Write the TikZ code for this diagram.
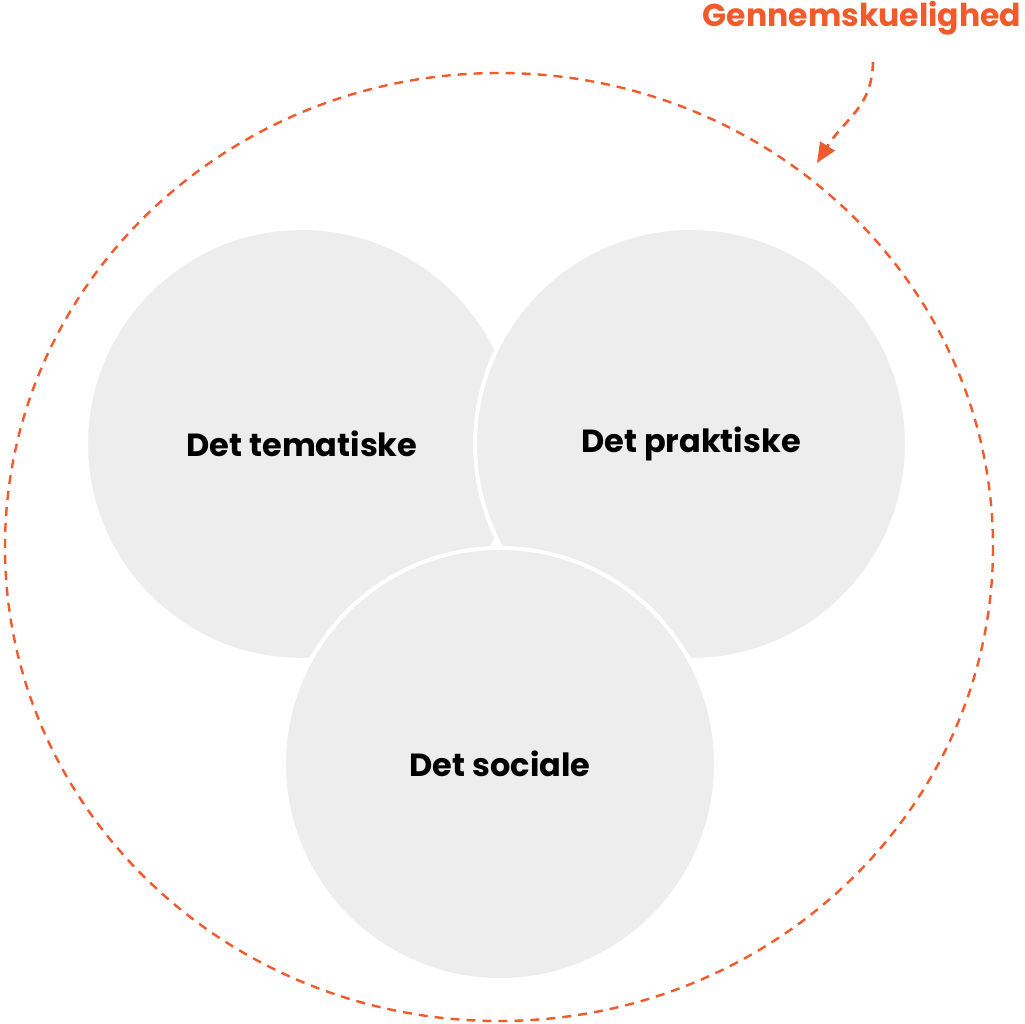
\documentclass[tikz,border=0pt]{standalone}
\usepackage{fontspec}
\setmainfont{Poppins}
\usetikzlibrary{arrows.meta}
\definecolor{signal}{HTML}{F25A2B}
\definecolor{blobgray}{HTML}{EDEDED}
\tikzset{
  blob/.style={circle, fill=blobgray, draw=white, line width=4pt, minimum size=432pt,
    font=\fontsize{32}{36}\selectfont\bfseries, text=black},
  frame/.style={draw=signal, line width=2.4pt, dash pattern=on 9pt off 7pt},
}
\begin{document}
\begin{tikzpicture}[x=1pt,y=-1pt]
  \useasboundingbox (0,0) rectangle (1025,1024);
  % outer dashed frame
  \draw[frame] (499,547) ellipse[x radius=494, y radius=474];
  % the three circles
  \node[blob] (tem) at (302,444) {Det tematiske};
  \node[blob] (prak) at (691,444) {Det praktiske};
  \node[blob] (soc) at (500,764) {Det sociale};
  % label with arrow
  \node[text=signal, font=\fontsize{31.5}{34}\selectfont\bfseries] (gen) at (862,18) {Gennemskuelighed};
  \coordinate (arrstart) at (873,62);
  \coordinate (arrtip) at (817,163);
  \draw[frame, line width=2.6pt, -{Triangle[length=20pt,width=17pt]}]
    (arrstart) .. controls (872,108) and (845,118) .. (arrtip);
\end{tikzpicture}
\end{document}
